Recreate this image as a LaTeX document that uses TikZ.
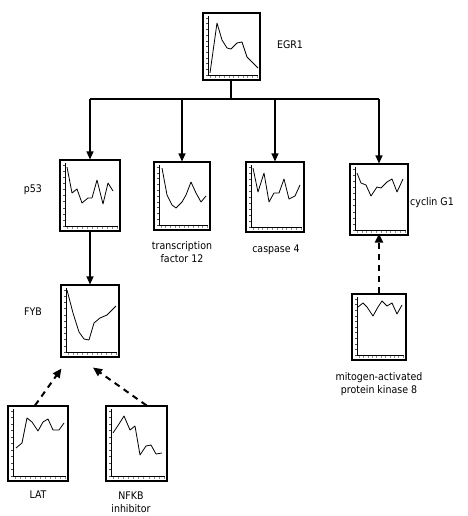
\documentclass[tikz,border=0pt]{standalone}
\usepackage{fontspec}
\setmainfont{DejaVu Sans Condensed}
\usetikzlibrary{arrows.meta,calc}

\tikzset{
  chartbox/.style={draw, line width=1.1pt, inner sep=0pt, fill=white},
  axisline/.style={line width=0.8pt},
  vtick/.style={line width=0.4pt, black!70},
  htick/.style={line width=0.4pt, black!45},
  series/.style={line width=0.8pt, line join=round},
  link/.style={line width=1.2pt, -{Triangle[length=8pt,width=7pt]}},
  dashlink/.style={line width=2pt, dash pattern=on 6pt off 5pt, -{Triangle[length=9pt,width=8pt]}},
  lbl/.style={font=\fontsize{10.5}{13.5}\selectfont, align=center, inner sep=0pt}
}

% \minichart{name}{x0}{y0}{x1}{y1}{data points}
\newcommand\minichart[6]{%
  \node[chartbox, minimum width={(#4-#2)*1pt}, minimum height={(#5-#3)*1pt}]
    (#1) at ({(#2+#4)/2},{(#3+#5)/2}) {};
  \draw[axisline] ({#2+5},{#3+3}) -- ({#2+5},{#5-5}) -- ({#4-2},{#5-5});
  \foreach \k in {0,...,10}
    \draw[vtick] ({#2+3.3},{#3+5+\k*(#5-#3-10)/10}) -- ({#2+5},{#3+5+\k*(#5-#3-10)/10});
  \foreach \k in {0,...,10}
    \draw[htick] ({#2+7+\k*(#4-#2-10)/10},{#5-4}) -- ++(0,1.6);
  \draw[series] plot coordinates {#6};
}

\begin{document}
\begin{tikzpicture}[x=1pt,y=-1pt]
\useasboundingbox (0,0) rectangle (467,516);

\minichart{egr}{203}{13}{260}{80}{(210,73) (217,23) (222,40) (227,48) (231,49) (237,43) (242,42) (247,57) (252,62) (258,68)}
\minichart{p53}{60}{160}{120}{231}{(67,167) (72,193) (77,189) (82,203) (88,198) (92,198) (97,180) (103,204) (108,183) (113,191)}
\minichart{tf}{154}{162}{210}{230}{(162,168) (167,195) (172,205) (176,208) (182,202) (186,195) (191,182) (196,193) (201,202) (206,196)}
\minichart{casp}{246}{162}{304}{232}{(253,168) (258,192) (264,173) (269,202) (274,193) (279,193) (284,179) (289,199) (295,196) (300,185)}
\minichart{cyc}{350}{164}{408}{235}{(357,173) (361,183) (366,185) (371,196) (377,187) (381,188) (387,182) (392,179) (397,192) (403,179)}
\minichart{fyb}{61}{285}{119}{357}{(67,290) (73,313) (79,332) (84,339) (89,340) (94,323) (100,318) (107,315) (116,306)}
\minichart{lat}{8}{406}{68}{481}{(16,448) (22,443) (27,418) (32,422) (38,431) (43,422) (48,419) (53,430) (59,430) (64,423)}
\minichart{nfkb}{106}{406}{167}{481}{(113,433) (119,424) (124,416) (130,430) (135,426) (140,455) (146,446) (151,445) (156,454) (162,453)}
\minichart{mapk}{352}{294}{406}{360}{(358,307) (363,303) (367,307) (373,316) (378,307) (382,301) (387,306) (392,303) (397,314) (402,305)}

% labels
\node[lbl] (tegr) at (290,45) {EGR1};
\node[lbl] (tp53) at (33,190) {p53};
\node[lbl] (ttf) at (182,252) {transcription\\factor 12};
\node[lbl] (tcasp) at (276,250) {caspase 4};
\node[lbl] (tcyc) at (432,203) {cyclin G1};
\node[lbl] (tfyb) at (33,312) {FYB};
\node[lbl] (tmapk) at (379,384) {mitogen-activated\\protein kinase 8};
\node[lbl] (tlat) at (38,495) {LAT};
\node[lbl] (tnfkb) at (131,502) {NFKB\\inhibitor};

% tree from EGR1
\coordinate (hub) at (231,99);
\draw[line width=1.2pt] (egr.south -| hub) -- (hub);
\draw[line width=1.2pt] (hub -| p53) -- (hub -| cyc);
\draw[link] (hub -| p53) -- (p53.north);
\draw[link] (hub -| tf) -- (tf.north);
\draw[link] (hub -| casp) -- (casp.north);
\draw[link] (hub -| cyc) -- (cyc.north);

\draw[link] (p53.south) -- (fyb.north);
\draw[dashlink] ([xshift=-3pt]lat.north) -- ([shift={(1,11)}]fyb.south west);
\draw[dashlink] ([xshift=10pt]nfkb.north) -- ([shift={(3,10)}]fyb.south);
\draw[dashlink] (mapk.north) -- ([yshift=2pt]mapk.north |- cyc.south);
\end{tikzpicture}
\end{document}
